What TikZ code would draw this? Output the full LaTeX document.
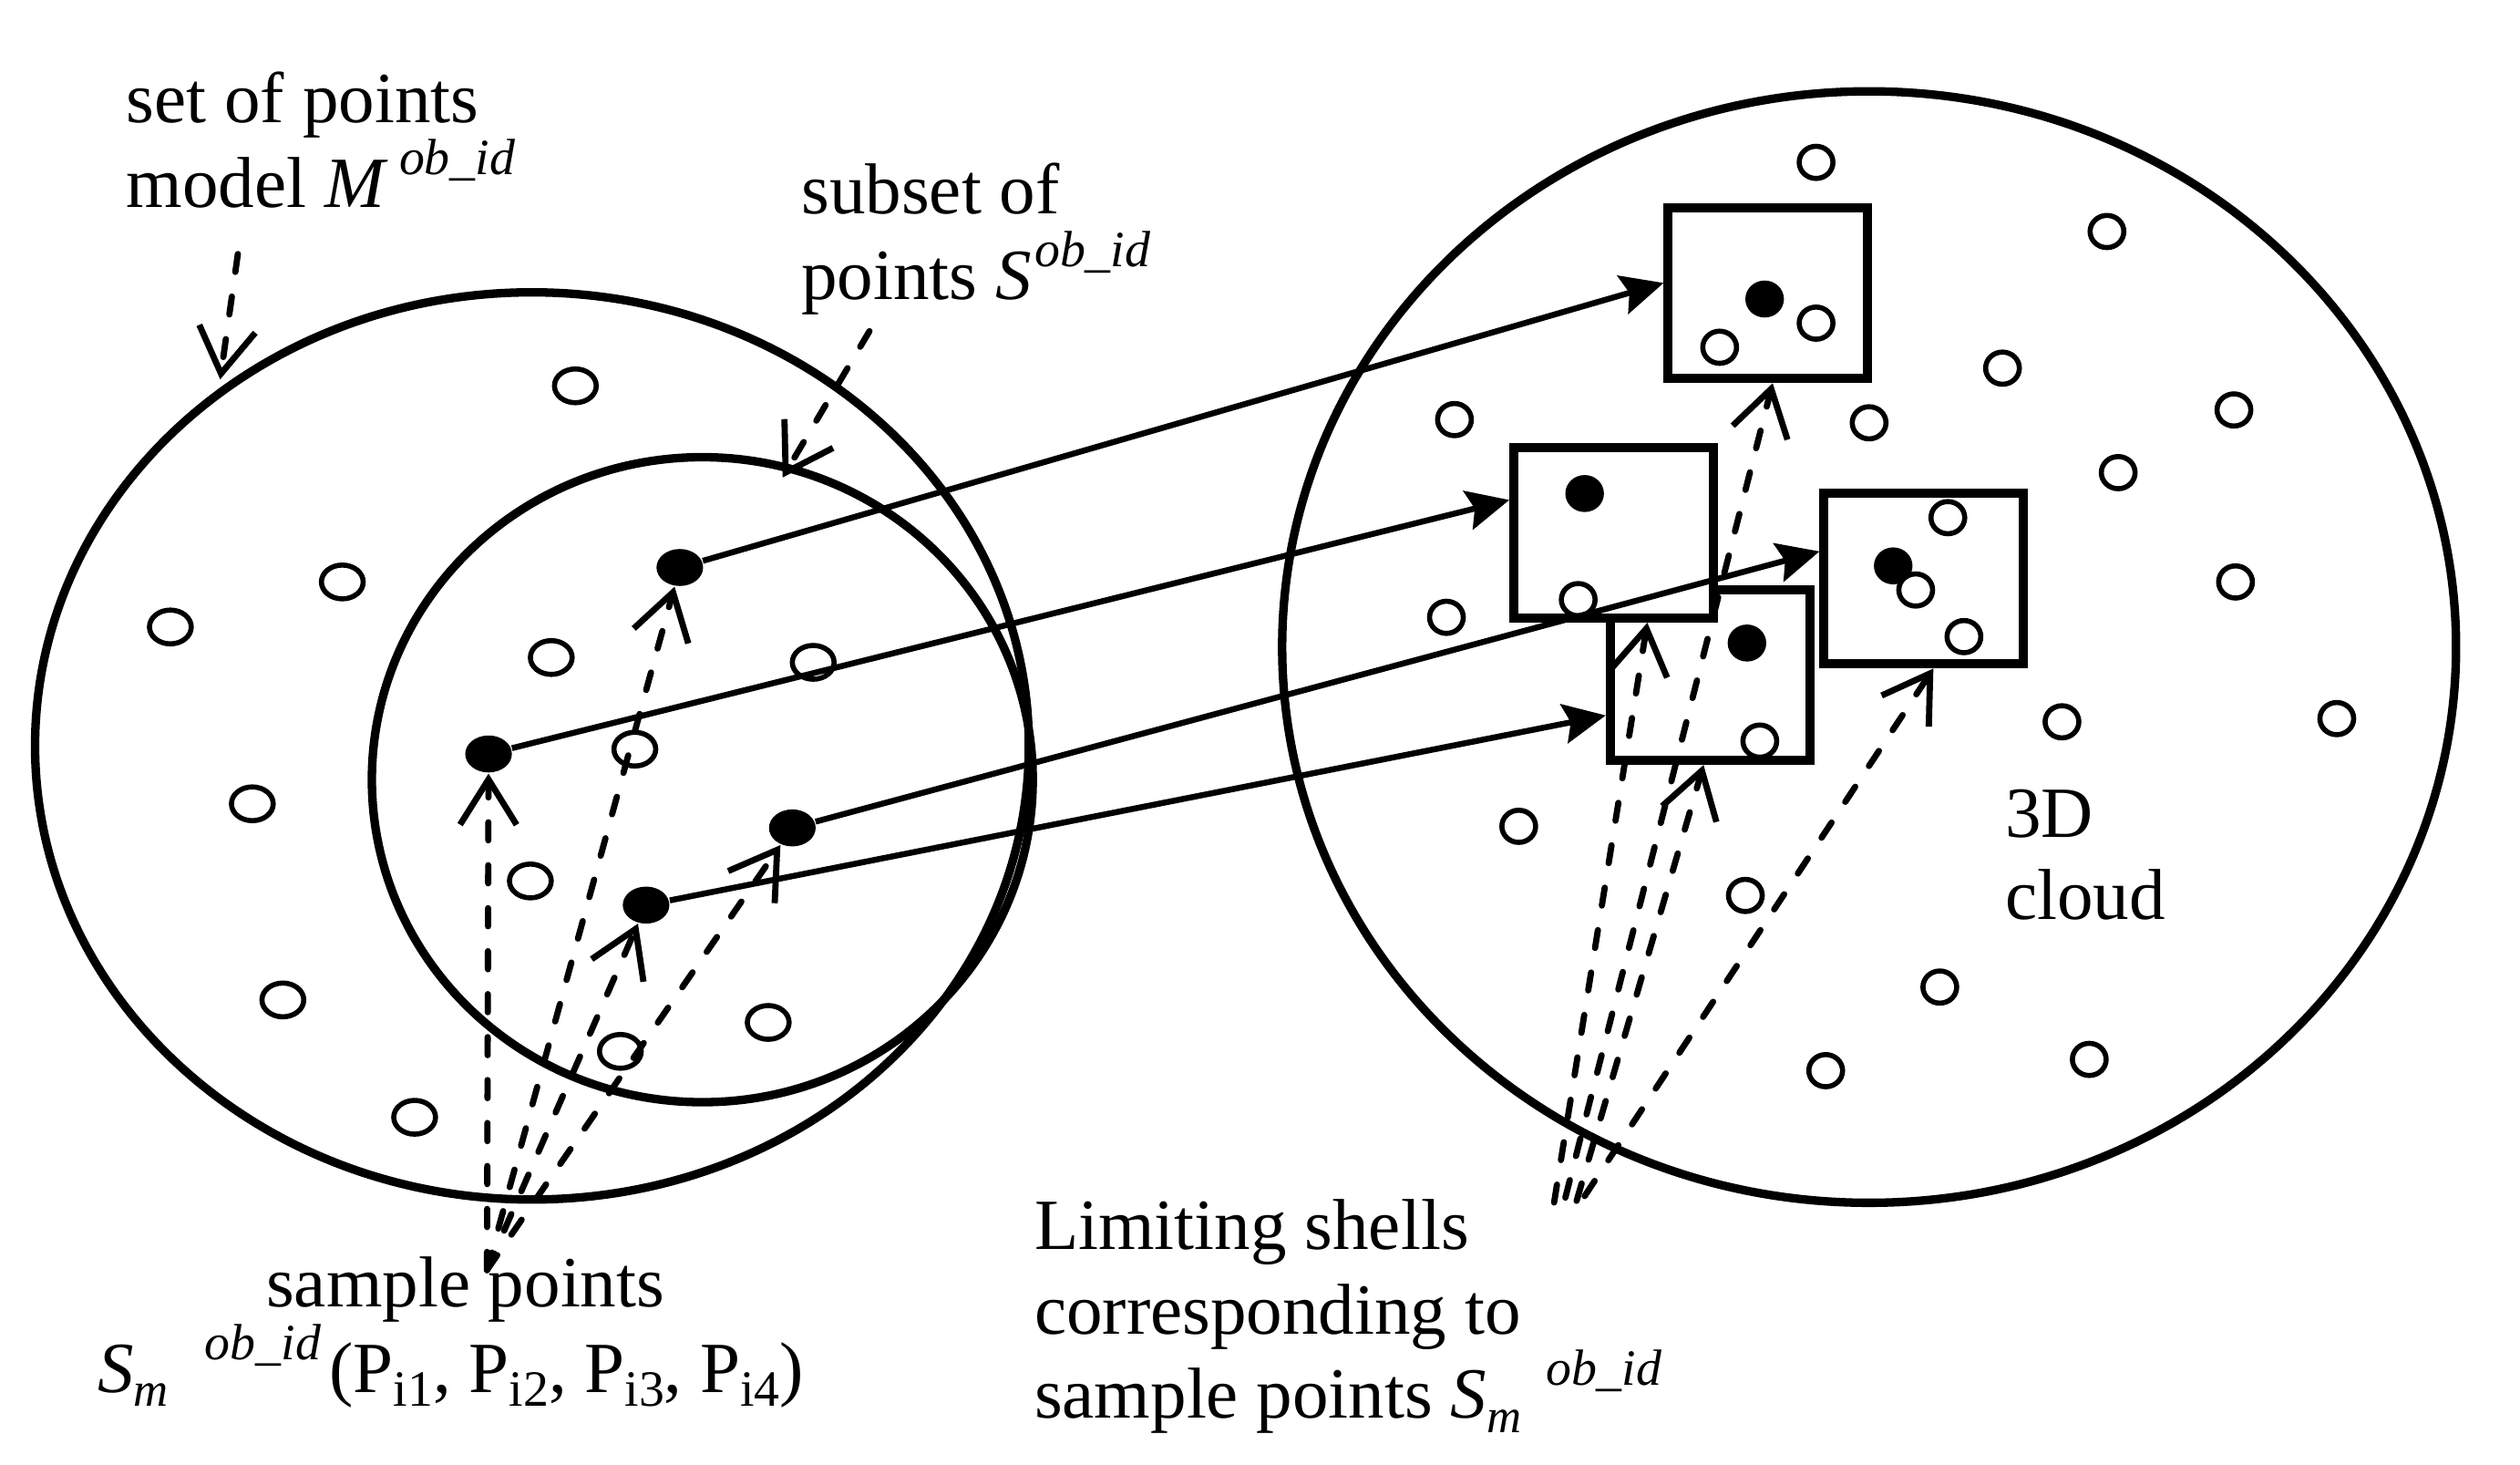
\documentclass[tikz,border=0pt]{standalone}
\usepackage{fontspec}
\setmainfont{Liberation Serif}
\usetikzlibrary{arrows.meta,shapes.geometric}
\newcommand{\obid}{\raisebox{0.45em}{\fontsize{9pt}{9pt}\selectfont\itshape ob\_id}}
\newcommand{\subm}{\raisebox{-0.2em}{\fontsize{8.5pt}{8.5pt}\selectfont\itshape m}}
\newcommand{\subi}[1]{\raisebox{-0.2em}{\fontsize{9pt}{9pt}\selectfont i#1}}
\begin{document}
\begin{tikzpicture}[x=0.01cm, y=-0.01cm,
  hollowL/.style={ellipse, draw, fill=white, line width=0.9pt, minimum width=0.26cm, minimum height=0.21cm, inner sep=0pt},
  fullL/.style={ellipse, fill=black, minimum width=0.29cm, minimum height=0.23cm, inner sep=0pt},
  hollowR/.style={ellipse, draw, fill=white, line width=0.9pt, minimum width=0.21cm, minimum height=0.20cm, inner sep=0pt},
  fullR/.style={ellipse, fill=black, minimum width=0.24cm, minimum height=0.23cm, inner sep=0pt},
  shellbox/.style={rectangle, draw, fill=white, line width=1.6pt, minimum width=1.24cm, minimum height=1.06cm, inner sep=0pt},
  bigell/.style={ellipse, draw, line width=1.5pt, inner sep=0pt},
  lbl/.style={inner sep=0pt, anchor=base west, font=\fontsize{12.75pt}{15pt}\selectfont},
  solidarr/.style={line width=1.05pt, -{Stealth[length=7.5pt, width=7pt, inset=1.2pt]}},
  dasharr/.style={line width=1.1pt, line cap=round, dash pattern=on 3.2pt off 4.4pt, -{Straight Barb[length=8pt, width=10pt]}}
]
\useasboundingbox (0,0) rectangle (1568,911);

% ---------- left model ----------
\node[bigell, minimum width=6.18cm, minimum height=5.64cm] (outerL) at (331,464) {};
\node[bigell, minimum width=4.11cm, minimum height=4.01cm] (innerL) at (437,485) {};

\node[hollowL] (lh1) at (358,240) {};
\node[hollowL] (lh2) at (213,362) {};
\node[hollowL] (lh3) at (106,390) {};
\node[hollowL] (lh4) at (343,409) {};
\node[hollowL] (lh5) at (506,412) {};
\node[hollowL] (lh6) at (395,466) {};
\node[hollowL] (lh7) at (157,500) {};
\node[hollowL] (lh8) at (330,548) {};
\node[hollowL] (lh9) at (176,622) {};
\node[hollowL] (lh10) at (478,636) {};
\node[hollowL] (lh11) at (386,654) {};
\node[hollowL] (lh12) at (258,695) {};

\node[fullL] (P1) at (423,353) {};
\node[fullL] (P2) at (304,469) {};
\node[fullL] (P3) at (493,515) {};
\node[fullL] (P4) at (402,563) {};

% ---------- right cloud ----------
\node[bigell, minimum width=7.30cm, minimum height=6.91cm] (cloud) at (1163,402.5) {};

\node[hollowR] (rh1) at (1130,101) {};
\node[hollowR] (rh2) at (1311,144) {};
\node[hollowR] (rh3) at (1246,229) {};
\node[hollowR] (rh4) at (905,261) {};
\node[hollowR] (rh5) at (1163,263) {};
\node[hollowR] (rh6) at (1390,255) {};
\node[hollowR] (rh7) at (1318,294) {};
\node[hollowR] (rh8) at (900,384) {};
\node[hollowR] (rh9) at (1391,362) {};
\node[hollowR] (rh10) at (1283,449) {};
\node[hollowR] (rh11) at (1454,447) {};
\node[hollowR] (rh12) at (945,514) {};
\node[hollowR] (rh13) at (1086,557) {};
\node[hollowR] (rh14) at (1207,614) {};
\node[hollowR] (rh15) at (1136,666) {};
\node[hollowR] (rh16) at (1300,659) {};

% shells
\node[shellbox] (B4) at (1064,420) {};
\node[fullR] (b4f) at (1087,400) {};
\node[hollowR] (b4h) at (1095,461) {};

\node[shellbox] (B2) at (1004,331.5) {};
\node[fullR] (b2f) at (986,307) {};
\node[hollowR] (b2h) at (982,373) {};

\node[shellbox] (B3) at (1197,360) {};
\node[fullR] (b3f) at (1178,352) {};
\node[hollowR] (b3h1) at (1212,322) {};
\node[hollowR] (b3h2) at (1192,367) {};
\node[hollowR] (b3h3) at (1222,396) {};

\node[shellbox] (B1) at (1100,182.5) {};
\node[fullR] (b1f) at (1098,186) {};
\node[hollowR] (b1h1) at (1130,201) {};
\node[hollowR] (b1h2) at (1070,216) {};

% ---------- labels ----------
\node[lbl] (setA) at (78,76) {set of points};
\node[lbl] (setB) at (78,129) {model \textit{M}\hspace{2pt}\obid};
\node[lbl] (subA) at (498,133) {subset of};
\node[lbl] (subB) at (498,186) {points \textit{S}\hspace{0.5pt}\obid};
\node[lbl] (smpA) at (165,813) {sample points};
\node[lbl] (smpB) at (60,866) {\textit{S}\subm\hspace{6.5pt}\obid\hspace{1.5pt}(P\subi{1}, P\subi{2}, P\subi{3}, P\subi{4})};
\node[lbl] (limA) at (643,777) {Limiting shells};
\node[lbl] (limB) at (643,830) {corresponding to};
\node[lbl] (limC) at (643,882) {sample points \textit{S}\subm\hspace{4.3pt}\obid};
\node[lbl] (cldA) at (1247,521) {3D};
\node[lbl] (cldB) at (1247,572) {cloud};

% ---------- connectors ----------
\coordinate (mS) at (148,158);
\coordinate (mT) at (137,236);
\coordinate (sS) at (541,206);
\coordinate (sT) at (487,297);
\draw[dasharr] (mS) -- (mT);
\draw[dasharr] (sS) -- (sT);

\draw[solidarr] (P1) -- ([yshift=0.065cm]B1.west);
\draw[solidarr] (P2) -- ([yshift=0.205cm]B2.west);
\draw[solidarr] (P3) -- ([yshift=0.17cm]B3.west);
\draw[solidarr] (P4) -- ([yshift=-0.25cm]B4.west);

\coordinate (lf) at (303,790);
\draw[dasharr] (lf) -- (P2);
\draw[dasharr] (lf) -- (P1);
\draw[dasharr] (lf) -- (P4);
\draw[dasharr] (lf) -- (P3);

\coordinate (rf1) at (967,748);
\coordinate (rf2) at (974,745);
\coordinate (rf3) at (981,747);
\coordinate (rf4) at (986,744);
\draw[dasharr] (rf1) -- ([xshift=0.21cm]B2.south);
\draw[dasharr] (rf2) -- ([xshift=0.03cm]B1.south);
\draw[dasharr] (rf3) -- ([xshift=-0.04cm]B4.south);
\draw[dasharr] (rf4) -- ([xshift=0.06cm]B3.south);
\end{tikzpicture}
\end{document}
